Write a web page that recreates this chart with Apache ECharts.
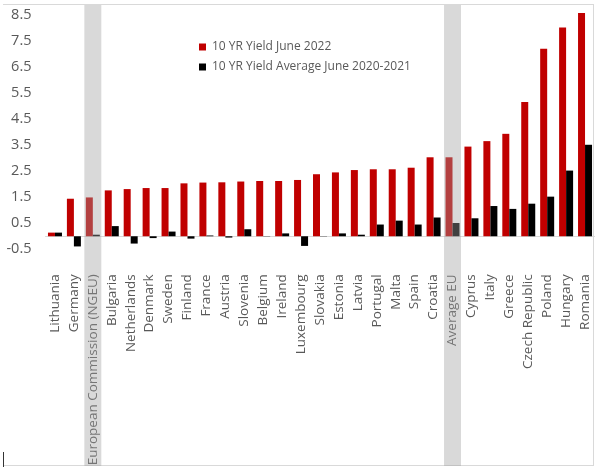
<!DOCTYPE html>
<html>
<head>
<meta charset="utf-8">
<script src="https://cdn.jsdelivr.net/npm/echarts@6/dist/echarts.min.js"></script>
<style>
html,body{margin:0;padding:0;background:#fff;}
#frame{position:absolute;left:3px;top:4px;width:591px;height:462px;border-top:1px solid #d9d9d9;border-right:1px solid #d9d9d9;border-bottom:1px solid #d9d9d9;box-sizing:border-box;}
#stub{position:absolute;left:3px;top:452px;width:1px;height:15px;background:#333;}
#chart{position:absolute;left:0;top:0;width:600px;height:469px;}
</style>
</head>
<body>
<div id="frame"></div>
<div id="stub"></div>
<div id="chart"></div>
<script>
const categories = ['Lithuania','Germany','European Commission (NGEU)','Bulgaria','Netherlands','Denmark','Sweden','Finland','France','Austria','Slovenia','Belgium','Ireland','Luxembourg','Slovakia','Estonia','Latvia','Portugal','Malta','Spain','Croatia','Average EU','Cyprus','Italy','Greece','Czech Republic','Poland','Hungary','Romania'];
const yield2022 = [0.14,1.44,1.49,1.76,1.81,1.85,1.85,2.03,2.06,2.07,2.10,2.12,2.12,2.16,2.38,2.45,2.54,2.57,2.57,2.63,3.03,3.03,3.44,3.65,3.93,5.15,7.19,8.01,8.57];
const yieldAvg2020_2021 = [0.14,-0.39,0.06,0.39,-0.28,-0.07,0.18,-0.09,0.03,-0.05,0.27,0.01,0.11,-0.37,0.01,0.11,0.06,0.45,0.60,0.45,0.72,0.51,0.69,1.16,1.05,1.25,1.52,2.52,3.51];
const highlighted = ['European Commission (NGEU)','Average EU'];
const yTicks = {min:-0.5, max:8.5, interval:1};

const bandData = categories.map(c => highlighted.includes(c) ? 1 : 0);
const FONT = 'Open Sans';
const TXT = '#595959';

const chart = echarts.init(document.getElementById('chart'), null, {renderer:'canvas'});
chart.setOption({
  animation:false,
  textStyle:{fontFamily:FONT},
  grid:[
    {left:45.5, right:5.5, top:14.7, bottom:219.7, containLabel:false},
    {left:45.5, right:5.5, top:5, bottom:3, containLabel:false}
  ],
  legend:{
    data:['10 YR Yield June 2022','10 YR Yield Average June 2020-2021'],
    orient:'vertical', left:194, top:36,
    icon:'rect', itemWidth:7, itemHeight:7, itemGap:8,
    textStyle:{color:TXT, fontSize:12, fontFamily:FONT, padding:[0,0,0,1]}
  },
  xAxis:[
    {type:'category', gridIndex:0, data:categories,
     axisLine:{onZero:true, lineStyle:{color:'#d9d9d9', width:1}},
     axisTick:{show:false},
     axisLabel:{rotate:90, interval:0, color:TXT, fontSize:13.5, fontFamily:FONT, margin:25}},
    {type:'category', gridIndex:1, data:categories, show:false}
  ],
  yAxis:[
    {type:'value', gridIndex:0, min:yTicks.min, max:yTicks.max, interval:yTicks.interval,
     axisLine:{show:false}, axisTick:{show:false}, splitLine:{show:false},
     axisLabel:{color:TXT, fontSize:14.5, fontFamily:FONT, margin:14, formatter:v=>v.toFixed(1)}},
    {type:'value', gridIndex:1, min:0, max:1, show:false}
  ],
  series:[
    {name:'10 YR Yield June 2022', type:'bar', xAxisIndex:0, yAxisIndex:0, data:yield2022,
     barWidth:7, barGap:'0%', clip:false, itemStyle:{color:'#c00000'}, z:2},
    {name:'10 YR Yield Average June 2020-2021', type:'bar', xAxisIndex:0, yAxisIndex:0, data:yieldAvg2020_2021,
     barWidth:7, barGap:'0%', clip:false, itemStyle:{color:'#000000'}, z:2},
    {name:'band', type:'bar', xAxisIndex:1, yAxisIndex:1, data:bandData,
     barWidth:17, itemStyle:{color:'rgba(160,160,160,0.4)'}, z:10, silent:true, legendHoverLink:false}
  ]
});
</script>
</body>
</html>
